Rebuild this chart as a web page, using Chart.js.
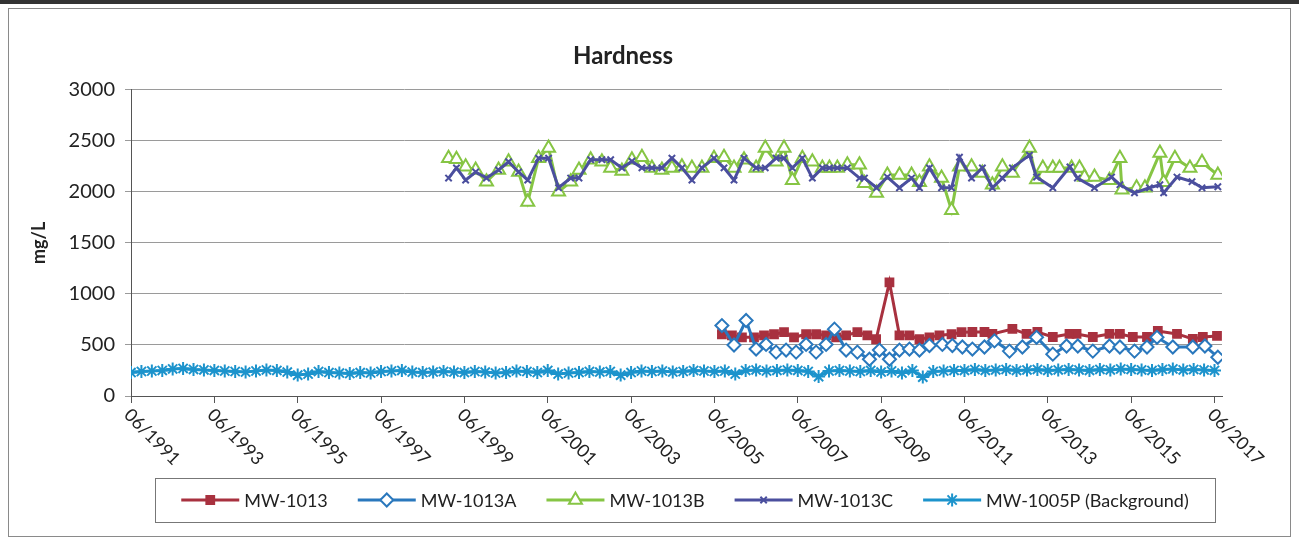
<!DOCTYPE html>
<html>
<head>
<meta charset="utf-8">
<title>Hardness</title>
<script src="https://cdn.jsdelivr.net/npm/chart.js@4.4.0/dist/chart.umd.min.js"></script>
<style>
  html, body { margin: 0; padding: 0; background: #fff; }
  #wrap { position: relative; width: 1299px; height: 540px; }
</style>
</head>
<body>
<div id="wrap"><canvas id="hardnessChart" width="1299" height="540"></canvas></div>
<script>
// x is decimal year (06/yyyy ~ yyyy.42), y is mg/L
const tickYears = [1991.42, 1993.42, 1995.42, 1997.42, 1999.42, 2001.42, 2003.42,
  2005.42, 2007.42, 2009.42, 2011.42, 2013.42, 2015.42, 2017.42];
const tickLabels = ["06/1991", "06/1993", "06/1995", "06/1997", "06/1999", "06/2001", "06/2003",
  "06/2005", "06/2007", "06/2009", "06/2011", "06/2013", "06/2015", "06/2017"];

const mw1013Dates = [2005.60, 2005.84, 2006.08, 2006.37, 2006.61, 2006.85, 2007.09, 2007.33,
  2007.62, 2007.86, 2008.10, 2008.34, 2008.58, 2008.85, 2009.09, 2009.30, 2009.62, 2009.86,
  2010.10, 2010.34, 2010.58, 2010.82, 2011.11, 2011.35, 2011.61, 2011.90, 2012.09, 2012.57,
  2012.91, 2013.17, 2013.54, 2013.94, 2014.11, 2014.50, 2014.90, 2015.15, 2015.46, 2015.80,
  2016.06, 2016.52, 2016.90, 2017.14, 2017.48];
const mw1013Values = [605, 595, 575, 575, 595, 605, 625, 575,
  605, 605, 595, 575, 595, 625, 595, 556, 1114, 595,
  595, 556, 575, 595, 605, 625, 627, 627, 608, 657,
  608, 627, 578, 608, 608, 578, 608, 608, 578, 578,
  637, 608, 559, 578, 588];

const mw1013ADates = [2005.60, 2005.89, 2006.18, 2006.42, 2006.66, 2006.90, 2007.14, 2007.38,
  2007.62, 2007.86, 2008.10, 2008.30, 2008.58, 2008.85, 2009.14, 2009.38, 2009.62, 2009.86,
  2010.10, 2010.34, 2010.58, 2010.89, 2011.13, 2011.37, 2011.61, 2011.90, 2012.14, 2012.50,
  2012.81, 2013.15, 2013.54, 2013.87, 2014.14, 2014.50, 2014.90, 2015.15, 2015.50, 2015.80,
  2016.04, 2016.42, 2016.90, 2017.19, 2017.50];
const mw1013AValues = [690, 500, 740, 460, 505, 430, 450, 430,
  505, 430, 505, 655, 450, 430, 360, 450, 360, 450,
  460, 450, 495, 505, 495, 480, 460, 480, 540, 440,
  480, 575, 410, 490, 490, 440, 490, 480, 440, 480,
  575, 480, 480, 490, 380];

const mw1013BDates = [1999.04, 1999.23, 1999.45, 1999.69, 1999.95, 2000.24, 2000.48, 2000.72,
  2000.94, 2001.20, 2001.44, 2001.68, 2001.97, 2002.17, 2002.45, 2002.72, 2002.93, 2003.20,
  2003.44, 2003.68, 2003.92, 2004.16, 2004.40, 2004.64, 2004.88, 2005.12, 2005.41, 2005.65,
  2005.89, 2006.13, 2006.42, 2006.64, 2006.90, 2007.09, 2007.29, 2007.53, 2007.77, 2008.01,
  2008.18, 2008.37, 2008.61, 2008.90, 2009.02, 2009.31, 2009.57, 2009.86, 2010.15, 2010.34,
  2010.58, 2010.87, 2011.11, 2011.30, 2011.59, 2011.85, 2012.09, 2012.33, 2012.57, 2012.98,
  2013.15, 2013.30, 2013.54, 2013.70, 2013.99, 2014.18, 2014.30, 2014.54, 2014.90, 2015.15,
  2015.20, 2015.55, 2015.75, 2016.11, 2016.20, 2016.47, 2016.83, 2017.12, 2017.50];
const mw1013BValues = [2330, 2320, 2245, 2215, 2100, 2215, 2295, 2195,
  1900, 2330, 2430, 2000, 2100, 2215, 2315, 2295, 2235, 2205,
  2315, 2340, 2235, 2215, 2235, 2245, 2235, 2235, 2330, 2340,
  2235, 2315, 2235, 2430, 2295, 2430, 2115, 2330, 2295, 2235,
  2235, 2235, 2265, 2265, 2085, 1990, 2165, 2165, 2165, 2095,
  2245, 2135, 1820, 2245, 2245, 2185, 2070, 2245, 2185, 2430,
  2120, 2235, 2235, 2235, 2235, 2235, 2145, 2145, 2115, 2330,
  2020, 2040, 2040, 2380, 2095, 2330, 2235, 2290, 2165];

const mw1013CDates = [1999.04, 1999.23, 1999.45, 1999.69, 1999.95, 2000.24, 2000.48, 2000.72,
  2000.94, 2001.20, 2001.44, 2001.68, 2001.97, 2002.17, 2002.45, 2002.72, 2002.93, 2003.20,
  2003.44, 2003.68, 2003.92, 2004.16, 2004.40, 2004.64, 2004.88, 2005.12, 2005.41, 2005.65,
  2005.89, 2006.13, 2006.42, 2006.64, 2006.90, 2007.09, 2007.29, 2007.53, 2007.77, 2008.01,
  2008.18, 2008.37, 2008.61, 2008.90, 2009.02, 2009.31, 2009.57, 2009.86, 2010.15, 2010.34,
  2010.58, 2010.87, 2011.11, 2011.30, 2011.59, 2011.85, 2012.09, 2012.33, 2012.57, 2012.98,
  2013.15, 2013.54, 2013.95, 2014.13, 2014.54, 2014.95, 2015.15, 2015.50, 2015.86, 2016.11,
  2016.20, 2016.52, 2016.88, 2017.12, 2017.50];
const mw1013CValues = [2135, 2235, 2115, 2195, 2135, 2215, 2295, 2195,
  2115, 2330, 2330, 2040, 2135, 2135, 2315, 2315, 2315, 2235,
  2300, 2235, 2235, 2235, 2330, 2235, 2115, 2235, 2330, 2235,
  2115, 2330, 2235, 2235, 2330, 2330, 2235, 2330, 2135, 2235,
  2235, 2235, 2235, 2135, 2135, 2040, 2145, 2040, 2135, 2040,
  2235, 2040, 2040, 2340, 2135, 2235, 2040, 2135, 2235, 2360,
  2145, 2040, 2245, 2135, 2040, 2145, 2070, 1990, 2040, 2070,
  1990, 2145, 2100, 2040, 2050];

const mw1005PDates = [
  1991.42, 1991.67, 1991.92, 1992.17, 1992.42, 1992.67, 1992.92, 1993.17,
  1993.42, 1993.67, 1993.92, 1994.17, 1994.42, 1994.67, 1994.92, 1995.17,
  1995.42, 1995.67, 1995.92, 1996.17, 1996.42, 1996.67, 1996.92, 1997.17,
  1997.42, 1997.67, 1997.92, 1998.17, 1998.42, 1998.67, 1998.92, 1999.17,
  1999.42, 1999.67, 1999.92, 2000.17, 2000.42, 2000.67, 2000.92, 2001.17,
  2001.42, 2001.67, 2001.92, 2002.17, 2002.42, 2002.67, 2002.92, 2003.17,
  2003.42, 2003.67, 2003.92, 2004.17, 2004.42, 2004.67, 2004.92, 2005.17,
  2005.42, 2005.67, 2005.92, 2006.17, 2006.42, 2006.67, 2006.92, 2007.17,
  2007.42, 2007.67, 2007.92, 2008.17, 2008.42, 2008.67, 2008.92, 2009.17,
  2009.42, 2009.67, 2009.92, 2010.17, 2010.42, 2010.67, 2010.92, 2011.17,
  2011.42, 2011.67, 2011.92, 2012.17, 2012.42, 2012.67, 2012.92, 2013.17,
  2013.42, 2013.67, 2013.92, 2014.17, 2014.42, 2014.67, 2014.92, 2015.17,
  2015.42, 2015.67, 2015.92, 2016.17, 2016.42, 2016.67, 2016.92, 2017.17,
  2017.42];
const mw1005PValues = [
  230, 240, 245, 250, 265, 270, 260, 255,
  250, 245, 240, 235, 245, 255, 250, 235,
  205, 215, 240, 230, 225, 220, 230, 225,
  240, 245, 250, 235, 230, 235, 240, 235,
  230, 240, 235, 225, 230, 245, 240, 230,
  250, 215, 225, 230, 240, 235, 240, 205,
  230, 245, 240, 245, 235, 240, 250, 245,
  240, 245, 215, 250, 255, 245, 250, 255,
  250, 240, 190, 245, 250, 245, 240, 250,
  235, 245, 225, 250, 185, 240, 245, 250,
  250, 260, 250, 255, 260, 250, 255, 260,
  250, 255, 260, 255, 250, 260, 255, 265,
  260, 255, 250, 260, 265, 255, 260, 255,
  250];

const toPoints = (dates, values) => dates.map((d, i) => ({ x: d, y: values[i] }));
const FONT = "Lato, 'Open Sans', 'Liberation Sans', sans-serif";

// x 라벨 (시계방향 회전) + 테두리
const xLabelPlugin = {
  id: "xLabels",
  afterDraw(chart) {
    const ctx = chart.ctx;
    const xs = chart.scales.x;
    ctx.save();
    ctx.font = `18px ${FONT}`;
    ctx.fillStyle = "#222";
    ctx.textAlign = "left";
    ctx.textBaseline = "middle";
    tickYears.forEach((v, i) => {
      const px = xs.getPixelForValue(v);
      ctx.save();
      ctx.translate(px - 4, xs.top + 16);
      ctx.rotate(Math.PI / 4);
      ctx.fillText(tickLabels[i], 0, 0);
      ctx.restore();
    });
    // outer frame
    ctx.strokeStyle = "#8a8a8a";
    ctx.lineWidth = 1;
    ctx.strokeRect(8.5, 8.5, 1282, 528);
    ctx.fillStyle = "#333";
    ctx.fillRect(0, 0, 1299, 4);
    ctx.restore();
  },
};

// 범례: 선 + 마커
const legendPlugin = {
  id: "boxLegend",
  afterDraw(chart) {
    const ctx = chart.ctx;
    const box = { left: 155, top: 478, right: 1215, bottom: 522 };
    const cy = (box.top + box.bottom) / 2;
    ctx.save();
    ctx.strokeStyle = "#777";
    ctx.lineWidth = 1;
    ctx.strokeRect(box.left + 0.5, box.top + 0.5, box.right - box.left, box.bottom - box.top);
    ctx.font = `18px ${FONT}`;
    const lineLen = 58, gap = 5, spacing = 30;
    const items = chart.data.datasets.map((ds) => ({
      ds,
      w: lineLen + gap + ctx.measureText(ds.label).width,
    }));
    const total = items.reduce((s, it) => s + it.w, 0) + spacing * (items.length - 1);
    let x = (box.left + box.right) / 2 - total / 2;
    items.forEach(({ ds, w }) => {
      ctx.strokeStyle = ds.borderColor;
      ctx.lineWidth = 3;
      ctx.beginPath();
      ctx.moveTo(x, cy);
      ctx.lineTo(x + lineLen, cy);
      ctx.stroke();
      ctx.fillStyle = ds.pointBackgroundColor;
      ctx.strokeStyle = ds.pointBorderColor;
      ctx.lineWidth = ds.pointBorderWidth;
      if (Chart.helpers && Chart.helpers.drawPoint) {
        Chart.helpers.drawPoint(ctx, {
          pointStyle: ds.pointStyle,
          radius: ds.pointRadius,
          borderWidth: ds.pointBorderWidth,
          rotation: 0,
        }, x + lineLen / 2, cy);
      }
      ctx.fillStyle = "#222";
      ctx.textAlign = "left";
      ctx.textBaseline = "middle";
      ctx.fillText(ds.label, x + lineLen + gap, cy + 1);
      x += w + spacing;
    });
    ctx.restore();
  },
};

function series(label, dates, values, color, style, radius, fill, order) {
  return {
    label,
    data: toPoints(dates, values),
    borderColor: color,
    borderWidth: 3,
    pointStyle: style,
    pointRadius: radius,
    pointBackgroundColor: fill,
    pointBorderColor: color,
    pointBorderWidth: 2,
    tension: 0,
    order,
  };
}

const datasets = [
  series("MW-1013", mw1013Dates, mw1013Values, "#a8313f", "rect", 5.5, "#a8313f", 5),
  series("MW-1013A", mw1013ADates, mw1013AValues, "#2a78bd", "rectRot", 6.5, "#ffffff", 4),
  series("MW-1013B", mw1013BDates, mw1013BValues, "#86c544", "triangle", 7.5, "#ffffff", 3),
  series("MW-1013C", mw1013CDates, mw1013CValues, "#4b4f9e", "crossRot", 4.5, "#4b4f9e", 2),
  series("MW-1005P (Background)", mw1005PDates, mw1005PValues, "#1c93cc", "star", 6.5, "#1c93cc", 1),
];

new Chart(document.getElementById("hardnessChart"), {
  type: "line",
  data: { datasets },
  options: {
    responsive: false,
    animation: false,
    layout: { padding: { left: 24, right: 77, top: 18, bottom: 0 } },
    plugins: {
      legend: { display: false },
      tooltip: { enabled: false },
      title: {
        display: true,
        text: "Hardness",
        color: "#222",
        font: { family: FONT, size: 24, weight: "bold" },
        padding: { top: 24, bottom: 19 },
      },
    },
    scales: {
      x: {
        type: "linear",
        min: 1991.42,
        max: 2017.6,
        afterBuildTicks: (scale) => {
          scale.ticks = tickYears.map((v) => ({ value: v }));
        },
        afterFit: (scale) => {
          scale.height = 144;
        },
        ticks: { display: false },
        grid: { drawOnChartArea: false, drawTicks: true, tickLength: 7, color: "#555" },
        border: { color: "#555", width: 1 },
      },
      y: {
        min: 0,
        max: 3000,
        afterFit: (scale) => {
          scale.width = 107;
        },
        ticks: {
          stepSize: 500,
          color: "#222",
          padding: 10,
          font: { family: FONT, size: 20 },
          callback: (v) => String(v),
        },
        grid: { color: "#9a9a9a", tickLength: 6 },
        border: { color: "#555", width: 1 },
        title: {
          display: true,
          text: "mg/L",
          color: "#222",
          font: { family: FONT, size: 18, weight: "bold" },
          padding: { top: 4, bottom: 4 },
        },
      },
    },
  },
  plugins: [xLabelPlugin, legendPlugin],
});
</script>
</body>
</html>
